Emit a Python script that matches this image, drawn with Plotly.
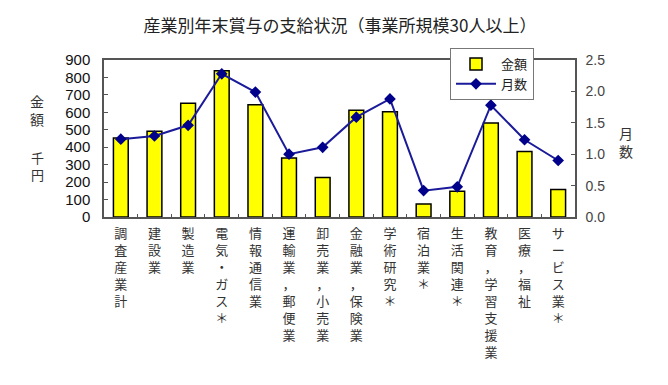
import plotly.graph_objects as go

categories = ["調査産業計", "建設業", "製造業", "電気・ガス＊", "情報通信業", "運輸業，郵便業",
              "卸売業，小売業", "金融業，保険業", "学術研究＊", "宿泊業＊", "生活関連＊",
              "教育，学習支援業", "医療，福祉", "サービス業＊"]
amount = [453, 491, 652, 839, 644, 338, 226, 612, 604, 75, 147, 539, 375, 157]
months = [1.24, 1.29, 1.46, 2.28, 1.99, 1.00, 1.11, 1.59, 1.88, 0.42, 0.48, 1.78, 1.23, 0.90]
left_ticks = [0, 100, 200, 300, 400, 500, 600, 700, 800, 900]
right_ticks = [0.0, 0.5, 1.0, 1.5, 2.0, 2.5]

FONT = "Noto Sans CJK JP"
tick_text = ["<br>".join(list(c)) for c in categories]

L, R, T, B = 104, 93, 60, 168
W, H = 668, 385
PW, PH = W - L - R, H - T - B

fig = go.Figure()
fig.add_trace(go.Bar(
    x=categories, y=amount, name="金額",
    marker=dict(color="#FFFF00", line=dict(color="#000000", width=1.5)),
    width=0.44, yaxis="y",
))
fig.add_trace(go.Scatter(
    x=categories, y=months, name="月数", mode="lines+markers",
    line=dict(color="#1a1a9a", width=2),
    marker=dict(symbol="diamond", size=9, color="#00008B"),
    yaxis="y2",
))

fig.update_layout(
    width=W, height=H,
    margin=dict(l=L, r=R, t=T, b=B, autoexpand=False),
    paper_bgcolor="white", plot_bgcolor="white",
    font=dict(family=FONT, color="#222"),
    showlegend=True,
    title=dict(text="産業別年末賞与の支給状況（事業所規模30人以上）",
               x=340 / W, xanchor="center", y=1 - 26 / H, yanchor="middle",
               font=dict(family=FONT, size=17, color="#222")),
    xaxis=dict(
        tickmode="array", tickvals=categories, ticktext=tick_text,
        tickangle=0, showline=True, linecolor="#555", linewidth=1.5, mirror=True,
        ticks="inside", ticklen=3, tickson="boundaries", tickcolor="#555",
        tickfont=dict(family=FONT, size=13, color="#333"),
        showgrid=False, range=[-0.5, 13.5], automargin=False, ticklabelstandoff=4,
    ),
    yaxis=dict(
        range=[0, 900], tickvals=left_ticks, showline=True, linecolor="#555", linewidth=1.5,
        ticks="inside", ticklen=4, tickcolor="#555", showgrid=False, zeroline=False,
        tickfont=dict(family="Liberation Sans", size=15, color="#111"), automargin=False,
        ticklabelstandoff=9,
    ),
    yaxis2=dict(
        range=[0, 2.5], tickvals=right_ticks, tickformat=".1f", overlaying="y", side="right",
        showline=True, linecolor="#555", linewidth=1.5,
        ticks="inside", ticklen=4, tickcolor="#555", showgrid=False, zeroline=False,
        tickfont=dict(family="Liberation Sans", size=14, color="#444"), automargin=False,
        ticklabelstandoff=6,
    ),
    legend=dict(
        x=(450 - L) / PW, y=(H - B - 48) / PH, xanchor="left", yanchor="top",
        bgcolor="white", bordercolor="#777", borderwidth=1,
        font=dict(family=FONT, size=13, color="#222"),
        tracegroupgap=0, itemwidth=40,
    ),
    bargap=0.5,
)

ann = [("金<br>額", 37, 110, 14), ("千<br>円", 37, 166, 13), ("月<br>数", 626, 142, 14)]
for t, px, py, fs in ann:
    fig.add_annotation(text=t, x=(px - L) / PW, y=(H - B - py) / PH,
                       xref="paper", yref="paper",
                       showarrow=False, xanchor="center", yanchor="middle",
                       font=dict(family=FONT, size=fs, color="#333"))

fig.write_html("out.html", config={"displayModeBar": False},
               post_script="document.body.style.margin='0';document.body.style.overflow='hidden';")
